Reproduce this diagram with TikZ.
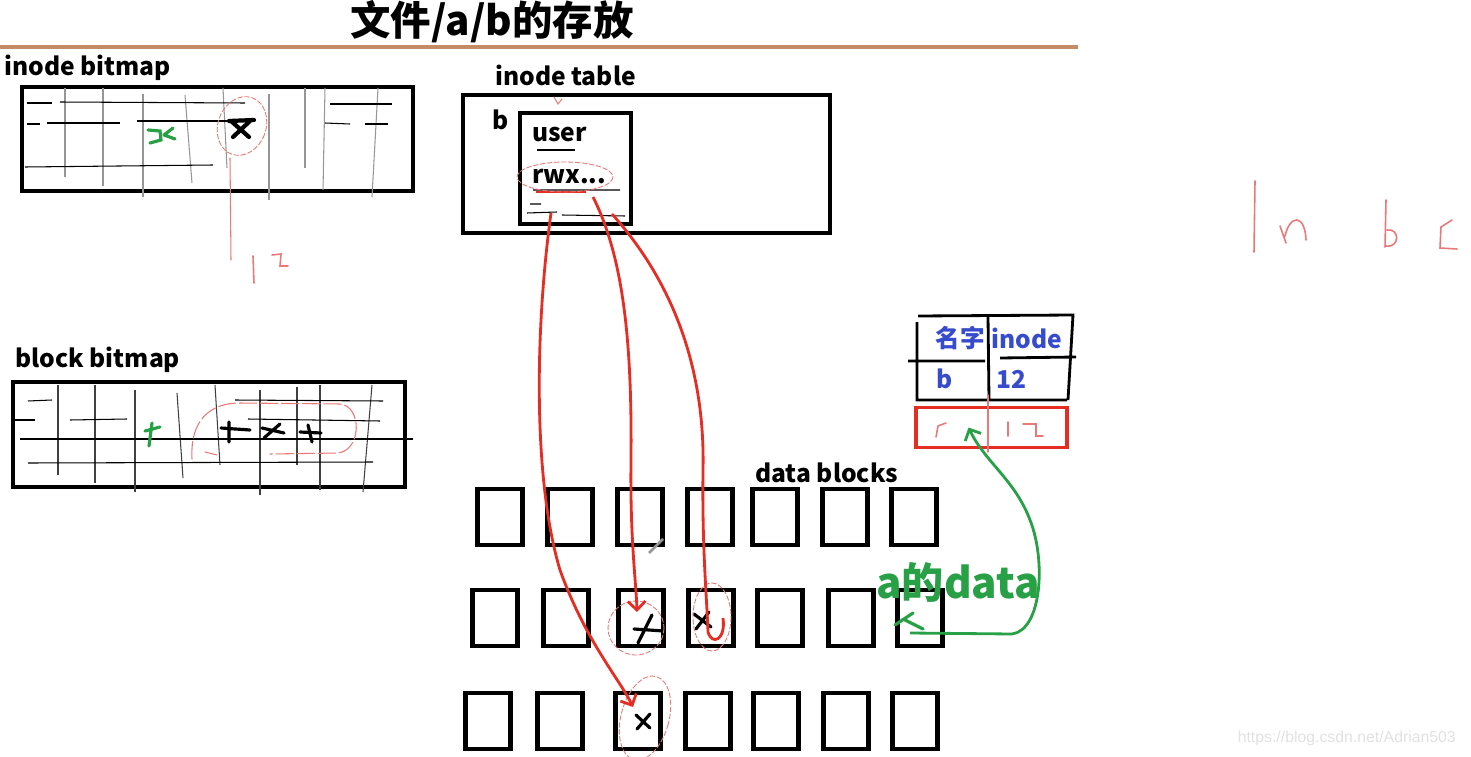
\documentclass[tikz,border=0pt]{standalone}
\usepackage{fontspec}
\setmainfont{Noto Sans CJK SC}
\setsansfont{Liberation Sans}
\usetikzlibrary{arrows.meta}
\definecolor{myred}{RGB}{230,45,35}
\definecolor{mypink}{RGB}{235,120,120}
\definecolor{mygreen}{RGB}{40,160,70}
\definecolor{myblue}{RGB}{55,75,205}
\definecolor{mygrid}{RGB}{150,150,150}
\definecolor{rulebrown}{RGB}{195,140,100}
\definecolor{wmgray}{RGB}{225,225,225}
\tikzset{
  bitbox/.style={rectangle, draw=black, line width=2.3pt, inner sep=0pt},
  datablk/.style={rectangle, draw=black, line width=2.6pt, inner sep=0pt,
    minimum width=0.9cm, minimum height=1.12cm},
  lbl/.style={font=\bfseries\fontsize{14}{16}\selectfont, inner sep=0pt},
  dirtxt/.style={font=\bfseries\fontsize{14}{16}\selectfont, text=myblue, inner sep=0pt},
  gridv/.style={mygrid, line width=0.6pt},
  gridh/.style={black, line width=0.6pt},
  pen/.style={black, line width=1.8pt, line cap=round},
  greenpen/.style={mygreen, line width=1.8pt, line cap=round},
  redpen/.style={mypink, line width=0.6pt, line cap=round},
  ring/.style={mypink, line width=0.5pt, dash pattern=on 3pt off 1pt},
  redarrow/.style={-{Straight Barb[length=5pt, width=10pt]}, myred, line width=1.6pt},
  greenarrow/.style={-{Straight Barb[length=5pt, width=10pt]}, mygreen, line width=1.6pt}
}
\begin{document}
\begin{tikzpicture}[x=0.02cm, y=-0.02cm]
  \useasboundingbox (0,0) rectangle (1471,757);

  % Title and rule
  \node[font=\bfseries\fontsize{23}{25}\selectfont] (title) at (492,22) {文件/a/b的存放};
  \draw[line width=2.3pt, rulebrown] (0,47) -- (1078,47);

  % inode bitmap
  \node[lbl, anchor=west] (ibmplbl) at (4,68) {inode bitmap};
  \node[bitbox, minimum width=7.82cm, minimum height=2.08cm] (ibmp) at (217.5,139) {};
  \foreach \xa/\ya/\xb/\yb in {65/88/65/177, 103/88/103/186, 143/94/143/197,
      185/95/192/183, 223/88/227/168, 269/94/269/200, 305/88/305/168,
      325/88/323/190, 378/88/372/197}
    \draw[gridv] (\xa,\ya) -- (\xb,\yb);
  \foreach \xa/\ya/\xb/\yb in {27/103/52/103, 60/102/245/103, 330/104/392/104,
      27/124/40/124, 47/123/120/123, 137/121/230/121, 325/123/350/124,
      365/124/388/124, 25/167/213/165}
    \draw[gridh] (\xa,\ya) -- (\xb,\yb);
  \draw[greenpen] (148,130) -- (160,131) -- (161,140) -- (150,143)
    (164,135) -- (173,128) (164,135) -- (175,139);
  \draw[pen, line width=2.4pt] (231,121) -- (249,137) (250,121) -- (233,137)
    (229,121) -- (254,120);
  \draw[ring, rotate around={-20:(242,126)}] (242,126) ellipse [x radius=24, y radius=30];
  \draw[redpen] (230,158) -- (231,260);
  % handwritten 12
  \draw[redpen, line width=0.9pt] (253,256) -- (254,283)
    (272,255) -- (281,254) -- (280,266) -- (288,266);

  % block bitmap
  \node[lbl, anchor=west] (bbmplbl) at (15,360) {block bitmap};
  \node[bitbox, minimum width=7.84cm, minimum height=2.1cm] (bbmp) at (209,434.5) {};
  \foreach \xa/\ya/\xb/\yb in {58/385/58/475, 95/385/95/483, 135/390/135/492,
      177/393/183/478, 215/385/220/465, 260/390/260/495, 297/387/297/465,
      320/385/320/490, 372/385/363/492}
    \draw[gridv, black!75] (\xa,\ya) -- (\xb,\yb);
  \foreach \xa/\ya/\xb/\yb in {28/401/52/400, 235/400/383/401, 15/420/35/420,
      70/420/127/419, 248/419/380/421, 20/439/413/439, 28/463/373/462}
    \draw[gridh] (\xa,\ya) -- (\xb,\yb);
  \draw[greenpen] (145,431) -- (160,427) (152,423) -- (149,446);
  \draw[pen] (221,428) -- (250,430) (229,422) -- (229,442)
    (264,438) -- (280,424) (262,428) -- (284,433)
    (300,432) -- (321,433) (308,425) -- (312,442);
  \draw[redpen, dash pattern=on 10pt off 2pt] (192,459) .. controls (190,420) and (210,403) .. (240,403)
    -- (340,404) .. controls (362,406) and (362,450) .. (338,453) -- (270,454);
  \draw[redpen] (205,452) -- (217,455);

  % inode table
  \node[lbl, anchor=west] (itbllbl) at (495,75) {inode table};
  \node[bitbox, minimum width=7.34cm, minimum height=2.76cm] (itbl) at (646.5,164) {};
  \node[lbl] (bname) at (501,120) {b};
  \node[bitbox, minimum width=2.22cm, minimum height=2.22cm] (ino) at (575.5,168.5) {};
  \node[lbl, anchor=west] (user) at (532,135) {user};
  \node[lbl, anchor=west] (rwx) at (532,177) {rwx...};
  \draw[gridh] (537,150) -- (575,150);
  \draw[gridh] (533,190) -- (620,190) (530,204) -- (541,204)
    (527,213) -- (557,212) (562,215) -- (625,216);
  \draw[myred, line width=1pt] (536,192) -- (586,192);
  \draw[ring] (565,177) ellipse [x radius=48, y radius=15];
  \draw[redpen] (554,97) -- (558,104) -- (562,99);

  % pointer slots of inode b
  \coordinate (ptr1) at (551,213);
  \coordinate (ptr2) at (593,197);
  \coordinate (ptr3) at (612,214);

  % data blocks
  \node[lbl, anchor=west] (dlbl) at (755,473) {data blocks};
  \foreach \c/\xa/\xb/\xc in {1/500/495/488, 2/570/566/560, 3/640/641/638,
      4/710/711/708, 5/775/780/776, 6/845/851/846, 7/914/920/915} {
    \node[datablk] (d-1-\c) at (\xa,517) {};
    \node[datablk] (d-2-\c) at (\xb,618) {};
    \node[datablk] (d-3-\c) at (\xc,721) {};
  }
  \draw[pen] (634,629) -- (664,631) (652,615) -- (638,643);
  \draw[pen] (694,614) -- (711,627) (709,612) -- (696,629);
  \draw[pen] (636,715) -- (650,728) (650,714) -- (637,729);
  \draw[ring] (636,628) ellipse [x radius=28, y radius=27];
  \draw[ring] (712,617) ellipse [x radius=19, y radius=34];
  \draw[ring, rotate around={-15:(645,718)}] (645,718) ellipse [x radius=24, y radius=43];
  \draw[mygrid, line width=1.6pt] (649,553) -- (663,539);

  % block pointers
  \draw[redarrow] (ptr1) .. controls (535,330) and (533,480) .. (560,570)
    .. controls (585,640) and (620,680) .. ([xshift=-0.1cm, yshift=0.28cm]d-3-3.center);
  \draw[redarrow] (ptr2) .. controls (625,260) and (632,350) .. (631,460)
    .. controls (630,540) and (636,580) .. ([xshift=-0.08cm, yshift=0.12cm]d-2-3.center);
  \draw[myred, line width=1.6pt] (ptr3) .. controls (680,290) and (705,380) .. (703,470)
    .. controls (702,550) and (707,600) .. (708,632)
    .. controls (712,646) and (726,640) .. ([xshift=0.24cm]d-2-4.center);

  % directory entries
  \draw[black, line width=1.6pt] (918,316) -- (1073,315) -- (1068,400)
    (917,322) -- (917,400) -- (1067,400)
    (908,361) -- (985,361) (1000,358) -- (1076,357)
    (988,316) -- (989,400);
  \node[dirtxt] (colname) at (960,338) {名字};
  \node[dirtxt] (colino) at (1027,338) {inode};
  \node[dirtxt] (rowname) at (945,379) {b};
  \node[dirtxt] (rowino) at (1011,379) {12};
  \node[rectangle, draw=myred, line width=2.2pt, minimum width=3.02cm,
    minimum height=0.8cm] (dirnew) at (991.5,427.5) {};
  \draw[redpen] (988,395) -- (988,452);
  \draw[redpen, line width=0.9pt] (946,423) -- (938,426) -- (936,437)
    (1008,422) -- (1008,436) (1023,424) -- (1036,424) -- (1036,436) -- (1043,436);

  % data of a
  \node[font=\bfseries\fontsize{24}{26}\selectfont, text=mygreen] (adata) at (958,582) {a的data};
  \draw[greenpen] (895,625) -- (913,613) (903,619) -- (923,629);
  \draw[greenarrow] ([xshift=-0.2cm, yshift=-0.3cm]d-2-7.center) -- (1012,634)
    .. controls (1042,630) and (1046,560) .. (1030,520)
    .. controls (1015,480) and (985,462) .. ([xshift=-0.46cm, yshift=0cm]dirnew.center);

  % ln b c
  \draw[redpen, line width=0.9pt] (1255,181) -- (1254,252);
  \draw[redpen, line width=0.9pt] (1280,226) -- (1286,243)
    (1285,236) .. controls (1290,214) and (1305,214) .. (1306,240);
  \draw[redpen, line width=0.9pt] (1386,200) -- (1385,247)
    (1387,230) .. controls (1400,228) and (1400,248) .. (1386,246);
  \draw[redpen, line width=0.9pt] (1452,220) -- (1441,227) -- (1440,248) -- (1457,249);

  % watermark
  \node[font=\sffamily\fontsize{9}{11}\selectfont, text=wmgray, anchor=east] (wm) at (1462,738)
    {https://blog.csdn.net/Adrian503};
\end{tikzpicture}
\end{document}
